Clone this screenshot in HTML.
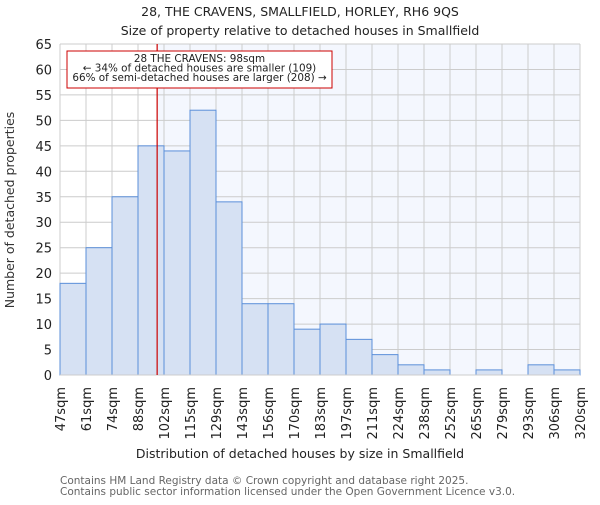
<!DOCTYPE html>
<html><head><meta charset="utf-8"><style>
body{margin:0;background:#fff;}
svg{font-family:"DejaVu Sans","Liberation Sans",sans-serif;}
</style></head><body>
<svg id="chart" width="600" height="500" viewBox="0 0 600 500">
<text x="300" y="16" text-anchor="middle" font-size="12.5" fill="#222">28, THE CRAVENS, SMALLFIELD, HORLEY, RH6 9QS</text>
<text x="300" y="35" text-anchor="middle" font-size="12.5" fill="#222">Size of property relative to detached houses in Smallfield</text>
<g id="plot"></g>
<text x="300" y="458" text-anchor="middle" font-size="12.5" fill="#222">Distribution of detached houses by size in Smallfield</text>
<text transform="translate(14,210) rotate(-90)" text-anchor="middle" font-size="12.5" fill="#333">Number of detached properties</text>
<text x="60" y="484" font-size="10.5" fill="#666">Contains HM Land Registry data © Crown copyright and database right 2025.</text>
<text x="60" y="495" font-size="10.5" fill="#666">Contains public sector information licensed under the Open Government Licence v3.0.</text>
</svg>
<script>
const binLabels=["47sqm","61sqm","74sqm","88sqm","102sqm","115sqm","129sqm","143sqm","156sqm","170sqm","183sqm","197sqm","211sqm","224sqm","238sqm","252sqm","265sqm","279sqm","293sqm","306sqm","320sqm"];
const counts=[18,25,35,45,44,52,34,14,14,9,10,7,4,2,1,0,1,0,2,1];
const yTicks=[0,5,10,15,20,25,30,35,40,45,50,55,60,65];
const binStart=47, binStep=13.65;
const propertySize=98;
const L=60,R=580,T=44,B=375,yMax=65;
const NS="http://www.w3.org/2000/svg";
const g=document.getElementById('plot');
const n=counts.length, bw=(R-L)/n;
const xb=i=>L+i*bw;
const xv=v=>L+(v-binStart)/binStep*bw;
const y=v=>B-v/yMax*(B-T);
function mk(t,a,p){const e=document.createElementNS(NS,t);for(const k in a)e.setAttribute(k,a[k]);(p||g).appendChild(e);return e;}
const lx=xv(propertySize);
let bg=mk('rect',{x:L,y:T,width:R-L,height:B-T,fill:'#fff'});


let tint=mk('rect',{x:lx,y:T,width:R-lx,height:B-T,fill:'#f4f7fe'});


yTicks.forEach(v=>{
 let gl=mk('line',{x1:L,x2:R,y1:y(v),y2:y(v),stroke:'#ccc','stroke-width':1});
 
 
 let t=mk('text',{x:L-8,y:y(v)+5,'text-anchor':'end','font-size':13,fill:'#222'});
 t.textContent=v;
 
 
});
binLabels.forEach((lb,i)=>{
 let gl=mk('line',{x1:xb(i),x2:xb(i),y1:T,y2:B,stroke:'#ccc','stroke-width':1});
 
 
 let t=mk('text',{transform:`translate(${xb(i)+5},${B+12}) rotate(-90)`,'text-anchor':'end','font-size':13,fill:'#222'});
 t.textContent=lb;
 
 
});
counts.forEach((c,i)=>{
 if(c<=0)return;
 let r=mk('rect',{x:xb(i),y:y(c),width:bw,height:B-y(c),fill:'#d6e1f3',stroke:'#5b8fd9','stroke-width':1});
 
 
});
let ax=mk('line',{x1:L,x2:R,y1:B,y2:B,stroke:'#ccc'});


let ml=mk('line',{x1:lx,x2:lx,y1:T,y2:B,stroke:'#cc0000','stroke-width':1.2});


let box=mk('rect',{x:67,y:51,width:265,height:37,fill:'#fff',stroke:'#cc0000','stroke-width':1});


["28 THE CRAVENS: 98sqm","← 34% of detached houses are smaller (109)","66% of semi-detached houses are larger (208) →"].forEach((s,i)=>{
 let t=mk('text',{x:199.5,y:62+i*9.6,'text-anchor':'middle','font-size':10.4,fill:'#222',textLength:i==0?0:null});
 if(i>0)t.removeAttribute('textLength'); else t.removeAttribute('textLength');
 t.textContent=s;
 
 
});
</script>
</body></html>
